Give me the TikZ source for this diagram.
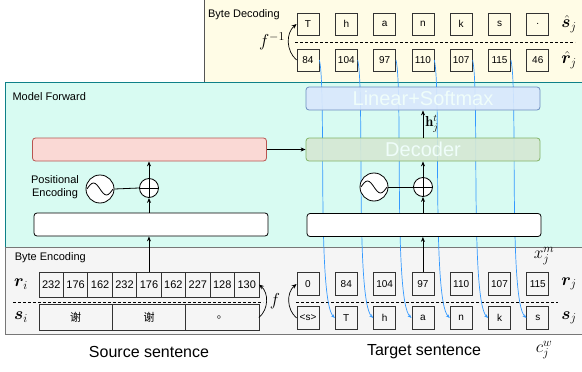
\documentclass[tikz,border=0pt]{standalone}
\usepackage{fontspec}
\setsansfont{Liberation Sans}
\newfontfamily\cjk{Noto Sans CJK SC}
\usepackage{amsmath}
\usepackage{bm}
\usepackage{tikz}
\usetikzlibrary{positioning}
\usetikzlibrary{chains}
\usetikzlibrary{calc}
\usetikzlibrary{arrows.meta}

\definecolor{decbg}{HTML}{FFFCE6}
\definecolor{decline}{HTML}{555555}
\definecolor{mfbg}{HTML}{D8FBF2}
\definecolor{mfline}{HTML}{0E8088}
\definecolor{encbg}{HTML}{F5F5F5}
\definecolor{encline}{HTML}{777777}
\definecolor{redfill}{HTML}{FAD9D5}
\definecolor{redline}{HTML}{B85450}
\definecolor{bluefill}{HTML}{DAE8FC}
\definecolor{blueline}{HTML}{6C8EBF}
\definecolor{greenfill}{HTML}{D5E8D4}
\definecolor{greenline}{HTML}{82B366}
\definecolor{lineblue}{HTML}{3399FF}

\begin{document}
\begin{tikzpicture}[
			x=1pt, y=-1pt,
			font=\sffamily\fontsize{11}{13}\selectfont,
			>={Stealth[length=5pt,width=4pt]},
			area/.style={draw=#1, line width=0.8pt},
			bytebox/.style={
				draw=black!80,
				line width=0.8pt,
				minimum width=22pt,
				minimum height=22pt,
				inner sep=0pt,
				font=\sffamily\fontsize{10}{12}\selectfont,
			},
			cell/.style={
				draw=black!80,
				line width=0.8pt,
				minimum height=25pt,
				inner sep=0pt,
				outer sep=0pt,
			},
			block/.style={
				draw=#1,
				line width=0.8pt,
				rounded corners=3pt,
				minimum width=234pt,
				minimum height=23pt,
				inner sep=0pt,
			},
			faint/.style={font=\sffamily\fontsize{20}{22}\selectfont, text=mfbg!40!white},
			wave/.style={circle, draw, fill=white, line width=0.8pt, minimum size=28pt, inner sep=0pt},
			adder/.style={circle, draw, fill=white, line width=0.8pt, minimum size=19pt, inner sep=0pt},
			byteline/.style={draw=lineblue, line width=0.7pt, -{Stealth[length=4pt,width=3pt]}},
			flow/.style={->, line width=0.8pt},
			sym/.style={font=\LARGE, inner sep=1pt},
			sep/.style={line width=0.8pt, dash pattern=on 3pt off 2pt},
			]
			\useasboundingbox (0,0) rectangle (582,372);
			\clip (0,0) rectangle (582,372);
			%% regions
			\draw[area=decline, fill=decbg] (204,-5) rectangle (590,82);
			\draw[area=mfline, fill=mfbg] (5,82) rectangle (590,247);
			\draw[area=encline, fill=encbg] (5,247) rectangle (590,334);
			\node[anchor=west] (declabel) at (204.6,15) {Byte Decoding};
			\node[anchor=west] (mflabel) at (9,97) {Model Forward};
			\node[anchor=west] (enclabel) at (11.3,258) {Byte Encoding};
			
			%% byte decoding
			\begin{scope}[shift={(308,24)}, start chain=sh going right, node distance=15.5pt, every on chain/.style=bytebox]
				\foreach \t in {T,h,a,n,k,s,.}
					\node[on chain] {\t};
			\end{scope}
			\begin{scope}[shift={(308,60)}, start chain=rh going right, node distance=15.5pt, every on chain/.style=bytebox]
				\foreach \t in {84,104,97,110,107,115,46}
					\node[on chain] {\t};
			\end{scope}
			\draw[sep] (295,42) -- (575,42);
			\node[sym] (finv) at (272,41) {$f^{-1}$};
			\node[sym] (shat) at (569,24) {$\hat{\bm{s}}_j$};
			\node[sym] (rhat) at (569,60) {$\hat{\bm{r}}_j$};
			\draw[->, line width=0.7pt] (rh-1.west) to[bend left=50] (sh-1.west);
			
			%% byte encoding
			\begin{scope}[shift={(51.2,284.5)}, start chain=ri going right, node distance=0pt, every on chain/.style={cell, minimum width=24.44pt}]
				\foreach \b in {232,176,162,232,176,162,227,128,130}
					\node[on chain] {\b};
			\end{scope}
			\begin{scope}[shift={(75.7,317.5)}, start chain=si going right, node distance=0pt, every on chain/.style={cell, minimum width=73.3pt, minimum height=26pt}]
				\foreach \c in {谢,谢,。}
					\node[on chain] {\cjk\c};
			\end{scope}
			\begin{scope}[shift={(308,284)}, start chain=rj going right, node distance=15.5pt, every on chain/.style={bytebox, minimum height=23pt}]
				\foreach \t in {0,84,104,97,110,107,115}
					\node[on chain] {\t};
			\end{scope}
			\begin{scope}[shift={(308,318)}, start chain=sj going right, node distance=15.5pt, every on chain/.style={bytebox, minimum height=23pt}]
				\node[on chain, font=\sffamily\fontsize{7}{8}\selectfont] {<s>};
				\foreach \t in {T,h,a,n,k,s}
					\node[on chain] {\t};
			\end{scope}
			\draw[sep] (13,302) -- (263,302);
			\draw[sep] (296,302) -- (558,302);
			\node[sym] (ri) at (21,284) {$\bm{r}_i$};
			\node[sym] (si) at (21,317) {$\bm{s}_i$};
			\node[sym] (f) at (275,301) {$f$};
			\node[sym] (rj) at (569,284) {$\bm{r}_j$};
			\node[sym] (sj) at (569,318) {$\bm{s}_j$};
			\node[sym] (xjm) at (544,256) {$x_j^m$};
			\node[sym] (cjw) at (544,350) {$c_j^w$};
			\draw[->, line width=0.7pt] (si-3.east) to[bend right=50] (ri-9.east);
			\draw[->, line width=0.7pt] (sj-1.west) to[bend left=50] (rj-1.west);
			\node[font=\sffamily\fontsize{16}{18}\selectfont] (src) at (149,352) {Source sentence};
			\node[font=\sffamily\fontsize{16}{18}\selectfont] (tgt) at (424,352) {Target sentence};
			
			%% shifted bytes
			\foreach \i in {1,...,6}{
				\pgfmathtruncatemacro\j{\i+1}
				\draw[byteline] (rh-\i.east) .. controls +(7,29) and +(-18,-18) .. (sj-\j.west);
			}
			
			%% model forward
			\node[block=redline, fill=redfill] (enc) at (149.5,149.5) {};
			\node[block=black, fill=white] (embl) at (151,224.5) {};
			\node[wave] (wavel) at (100,189) {};
			\node[adder] (addl) at (149,188) {};
			\node[align=center] (pelabel) at (55,187) {Positional\\Encoding};
			\node[block=blueline, fill=bluefill, fill opacity=0.9, text opacity=1, faint] (lin) at (423,98.5) {Linear+Softmax};
			\node[block=greenline, fill=greenfill, fill opacity=0.9, text opacity=1, faint] (dec) at (423,149.5) {Decoder};
			\node[block=black, fill=white] (embr) at (424,225) {};
			\node[wave] (waver) at (374,187) {};
			\node[adder] (addr) at (423,187) {};
			\foreach \w in {wavel,waver}
				\draw[line width=0.8pt] ($(\w.center)+(-13,0)$) sin ++(6.5,-6) cos ++(6.5,6) sin ++(6.5,6) cos ++(6.5,-6);
			\foreach \a in {addl,addr}
				\draw[line width=0.8pt] (\a.north) -- (\a.south) (\a.west) -- (\a.east);
			\draw[line width=0.8pt] (wavel.east) -- (addl.west);
			\draw[line width=0.8pt] (waver.east) -- (addr.west);
			\draw[flow] (ri-5.north) -- (embl.south -| ri-5);
			\draw[flow] (embl.north -| addl) -- (addl.south);
			\draw[flow] (addl.north) -- (enc.south -| addl);
			\draw[flow] (enc.east) -- (dec.west);
			\draw[flow] (rj-4.north) -- (embr.south -| rj-4);
			\draw[flow] (embr.north -| addr) -- (addr.south);
			\draw[flow] (addr.north) -- (dec.south -| addr);
			\draw[flow] (dec.north -| addr) -- node[right, font=\Large, inner sep=2pt] (hjt) {$\mathbf{h}_j^t$} (lin.south -| addr);
		\end{tikzpicture}
\end{document}
